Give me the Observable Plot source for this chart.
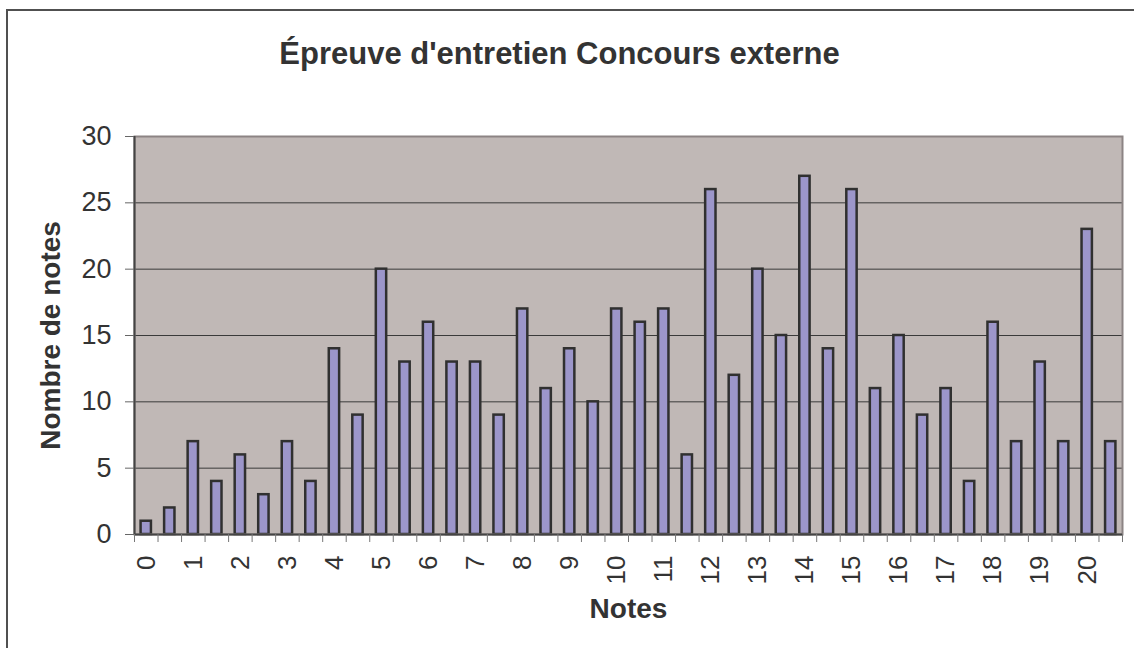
<!DOCTYPE html>
<html><head><meta charset="utf-8">
<script src="https://cdn.jsdelivr.net/npm/d3@7"></script>
<script src="https://cdn.jsdelivr.net/npm/@observablehq/plot@0.6"></script>
<style>
html,body{margin:0;padding:0;background:#fff;}
#wrap{position:relative;width:1134px;height:648px;overflow:hidden;}
#border{position:absolute;left:6px;top:9px;width:2000px;height:2000px;border-top:2px solid #505050;border-left:2px solid #505050;pointer-events:none;}
</style></head><body>
<div id="wrap"><div id="chart"></div><div id="border"></div></div>
<script>
const notes = [0,0.5,1,1.5,2,2.5,3,3.5,4,4.5,5,5.5,6,6.5,7,7.5,8,8.5,9,9.5,10,10.5,11,11.5,12,12.5,13,13.5,14,14.5,15,15.5,16,16.5,17,17.5,18,18.5,19,19.5,20,20.5];
const counts = [1,2,7,4,6,3,7,4,14,9,20,13,16,13,13,9,17,11,14,10,17,16,17,6,26,12,20,15,27,14,26,11,15,9,11,4,16,7,13,7,23,7];
const xTickLabels = [0,1,2,3,4,5,6,7,8,9,10,11,12,13,14,15,16,17,18,19,20];
const yTicks = [0,5,10,15,20,25,30];
const title = "Épreuve d'entretien Concours externe";
const xTitle = "Notes";
const yTitle = "Nombre de notes";

const data = notes.map((n,i)=>({note:n,count:counts[i]}));
const W=1134,H=648,mL=134,mR=12,mT=136,mB=114;
const step=(W-mL-mR)/notes.length;
const font="'Liberation Sans', Arial, sans-serif";

const chart = Plot.plot({
  width:W,height:H,marginLeft:mL,marginRight:mR,marginTop:mT,marginBottom:mB,
  style:{fontFamily:font,color:"#333",background:"transparent",overflow:"visible"},
  x:{type:"band",domain:notes,paddingInner:0.56,paddingOuter:0.28,round:false,axis:null},
  y:{domain:[0,30],axis:null},
  marks:[
    Plot.frame({fill:"#C0B8B6"}),
    Plot.gridY(yTicks.slice(1), {stroke:"#3a3a3a",strokeOpacity:1,strokeWidth:1}),
    Plot.barY(data,{x:"note",y:"count",fill:"#9C96CA",stroke:"#303030",strokeWidth:2.5}),
    Plot.frame({stroke:"#8C8484",strokeWidth:2}),
    Plot.ruleY([0],{stroke:"#444",strokeWidth:2}),
    Plot.ruleX([notes[0]],{dx:-step/2,stroke:"#444",strokeWidth:2}),
    Plot.axisY({ticks:yTicks,tickSize:9,tickPadding:14,fontSize:27,label:null,stroke:"#666"}),
    Plot.axisX({ticks:notes,tickSize:8,dx:-step/2,tickFormat:()=>"",label:null,stroke:"#777"}),
    Plot.axisX({ticks:[notes[notes.length-1]],tickSize:8,dx:step/2,tickFormat:()=>"",label:null,stroke:"#777"}),
    Plot.axisX({ticks:xTickLabels,tickSize:0,tickPadding:21,tickRotate:-90,fontSize:26,label:null}),
    Plot.text([title],{frameAnchor:"top",dx:-69,dy:-95,fontSize:31,fontWeight:"bold"}),
    Plot.text([yTitle],{frameAnchor:"left",textAnchor:"middle",lineAnchor:"middle",dx:-83,rotate:-90,fontSize:28,fontWeight:"bold"}),
    Plot.text([xTitle],{frameAnchor:"bottom",dy:83,fontSize:28,fontWeight:"bold"})
  ]
});
document.getElementById("chart").appendChild(chart);
</script>
</body></html>
